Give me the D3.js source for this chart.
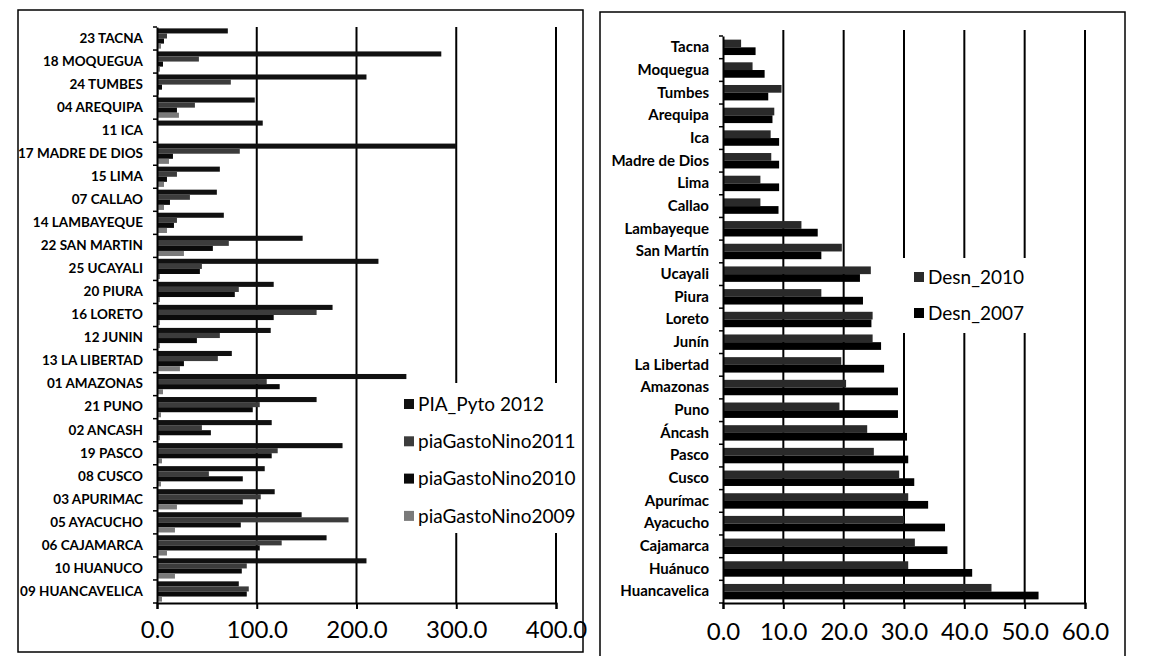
<!DOCTYPE html>
<html><head><meta charset="utf-8">
<script src="https://cdn.jsdelivr.net/npm/d3@7"></script>
<style>
html,body{margin:0;padding:0;background:#fff;}
svg{display:block;}
text{font-family:Lato,"Open Sans",sans-serif;fill:#000;}
</style></head>
<body>
<svg id="chart" width="1153" height="656"></svg>
<script>
// ---------- LEFT CHART DATA ----------
const leftCategories = ["23 TACNA","18 MOQUEGUA","24 TUMBES","04 AREQUIPA","11 ICA","17 MADRE DE DIOS","15 LIMA","07 CALLAO","14 LAMBAYEQUE","22 SAN MARTIN","25 UCAYALI","20 PIURA","16 LORETO","12 JUNIN","13 LA LIBERTAD","01 AMAZONAS","21 PUNO","02 ANCASH","19 PASCO","08 CUSCO","03 APURIMAC","05 AYACUCHO","06 CAJAMARCA","10 HUANUCO","09 HUANCAVELICA"];
const leftSeries = ["PIA_Pyto 2012","piaGastoNino2011","piaGastoNino2010","piaGastoNino2009"];
const piaPyto2012   = [71,285,210,98,106,300,63,60,67,146,222,117,176,114,75,250,160,115,186,108,118,145,170,210,82];
const gastoNino2011 = [10,42,74,38,1,83,20,33,20,72,45,82,160,63,61,110,103,45,121,52,104,192,125,90,92];
const gastoNino2010 = [7,6,5,20,1,16,10,13,17,56,43,78,117,40,27,123,96,54,115,86,86,84,103,85,90];
const gastoNino2009 = [4,3,2,22,0,12,7,7,10,27,3,3,3,3,23,6,4,3,5,4,20,18,10,18,5];
const leftTicks = [0,100,200,300,400];

// ---------- RIGHT CHART DATA ----------
const rightCategories = ["Tacna","Moquegua","Tumbes","Arequipa","Ica","Madre de Dios","Lima","Callao","Lambayeque","San Martín","Ucayali","Piura","Loreto","Junín","La Libertad","Amazonas","Puno","Áncash","Pasco","Cusco","Apurímac","Ayacucho","Cajamarca","Huánuco","Huancavelica"];
const rightSeries = ["Desn_2010","Desn_2007"];
const desn2010 = [3.0,4.9,9.7,8.5,7.9,8.0,6.2,6.2,13.0,19.7,24.5,16.3,24.8,24.8,19.6,20.4,19.3,23.9,25.0,29.2,30.7,30.0,31.8,30.7,44.5];
const desn2007 = [5.4,6.9,7.5,8.2,9.3,9.3,9.3,9.2,15.7,16.3,22.7,23.2,24.6,26.2,26.7,29.0,29.0,30.5,30.7,31.7,34.0,36.8,37.2,41.3,52.3];
const rightTicks = [0,10,20,30,40,50,60];

const leftColors = ["#111","#3c3c3c","#0a0a0a","#7a7a7a"];
const rightColors = ["#2a2a2a","#000"];

const svg = d3.select("#chart");
const fmt = d3.format(".1f");

// panel borders
svg.append("rect").attr("x",18).attr("y",10).attr("width",565).attr("height",642)
  .attr("fill","none").attr("stroke","#000").attr("stroke-width",1.5);
svg.append("rect").attr("x",600).attr("y",12).attr("width",525).attr("height",660)
  .attr("fill","none").attr("stroke","#000").attr("stroke-width",1.5);

function drawChart(o){
  const g = svg.append("g");
  const x = d3.scaleLinear().domain([o.ticks[0], o.ticks[o.ticks.length-1]]).range([o.x0,o.x1]);
  const y = d3.scaleBand().domain(o.categories).range([o.y0,o.y1]).paddingInner(o.padIn).paddingOuter(o.padOut);
  const sub = d3.scaleBand().domain(o.series).range([0,y.bandwidth()]);
  // gridlines
  g.append("g").selectAll("line").data(o.ticks.slice(1)).join("line")
    .attr("x1",d=>x(d)).attr("x2",d=>x(d)).attr("y1",o.gridTop).attr("y2",o.y1)
    .attr("stroke","#000").attr("stroke-width",2);
  // bars
  const rows = o.categories.map((c,i)=>({c, vals:o.values.map((arr,k)=>({s:o.series[k],v:arr[i],k}))}));
  g.append("g").selectAll("g").data(rows).join("g")
    .attr("transform",d=>`translate(0,${y(d.c)})`)
    .selectAll("rect").data(d=>d.vals).join("rect")
    .attr("x",x(0)).attr("y",d=>sub(d.s)).attr("height",sub.bandwidth())
    .attr("width",d=>Math.max(0,x(d.v)-x(0))).attr("fill",d=>o.colors[d.k]);
  // legend background
  g.append("rect").attr("x",o.legend.x).attr("y",o.legend.y).attr("width",o.legend.w).attr("height",o.legend.h).attr("fill","#fff");
  const lg = g.append("g").selectAll("g").data(o.series).join("g")
    .attr("transform",(d,i)=>`translate(${o.legend.sx},${o.legend.sy+i*o.legend.step})`);
  lg.append("rect").attr("x",0).attr("y",-5).attr("width",10).attr("height",10).attr("fill",(d,i)=>o.colors[i]);
  lg.append("text").attr("x",14).attr("y",0).attr("dy","0.35em").attr("font-size",o.legend.fs).text(d=>d);
  // x axis
  const xa = g.append("g").attr("transform",`translate(0,${o.y1})`)
    .call(d3.axisBottom(x).tickValues(o.ticks).tickFormat(fmt).tickSize(6).tickPadding(o.tickPad));
  xa.select(".domain").attr("stroke","#000").attr("stroke-width",2);
  xa.selectAll(".tick line").attr("stroke","#000").attr("stroke-width",2);
  xa.selectAll("text").attr("font-size",o.tickFs).attr("font-family","Lato");
  // y axis
  const ya = g.append("g").attr("transform",`translate(${o.x0},0)`)
    .call(d3.axisLeft(y).tickSize(0).tickPadding(o.labelPad));
  ya.select(".domain").attr("stroke","#000").attr("stroke-width",2);
  ya.selectAll("text").attr("font-size",o.labelFs).attr("font-weight","bold").attr("font-family","Lato");
  // category boundary ticks
  const step = y.step();
  const bounds = d3.range(o.categories.length+1).map(i=>o.y0 + i*step);
  g.append("g").selectAll("line").data(bounds).join("line")
    .attr("x1",o.x0-4).attr("x2",o.x0).attr("y1",d=>d).attr("y2",d=>d)
    .attr("stroke","#000").attr("stroke-width",1.5);
}

drawChart({
  categories:leftCategories, series:leftSeries,
  values:[piaPyto2012,gastoNino2011,gastoNino2010,gastoNino2009],
  colors:leftColors, ticks:leftTicks,
  x0:157, x1:556, y0:27, y1:603, gridTop:27, padIn:0.12, padOut:0.06,
  legend:{x:395,y:383,w:186,h:150,sx:404,sy:404,step:37.3,fs:19},
  tickFs:24, tickPad:12, labelFs:13.5, labelPad:14
});

drawChart({
  categories:rightCategories, series:rightSeries,
  values:[desn2010,desn2007],
  colors:rightColors, ticks:rightTicks,
  x0:723, x1:1085, y0:36, y1:603, gridTop:30, padIn:0.32, padOut:0.16,
  legend:{x:903,y:258,w:165,h:75,sx:914,sy:277,step:36,fs:19},
  tickFs:24, tickPad:14, labelFs:15, labelPad:14
});
</script>
</body></html>
